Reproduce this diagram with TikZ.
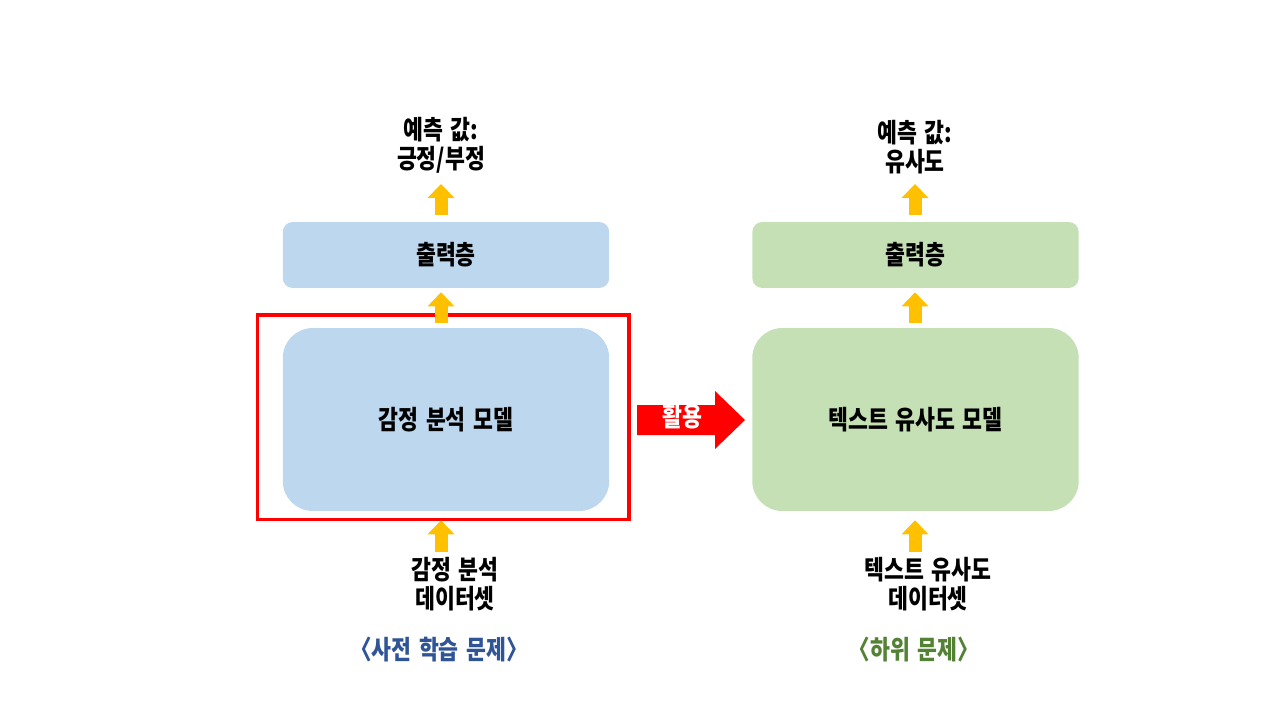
\documentclass[tikz,border=0pt]{standalone}
\usepackage{fontspec}
\setmainfont{Noto Sans CJK KR}[FakeStretch=0.82,WordSpace=1.5]
\usepackage{tikz}
\usetikzlibrary{positioning,arrows.meta,calc}
\definecolor{boxblue}{HTML}{BDD7EE}
\definecolor{boxgreen}{HTML}{C5E0B4}
\definecolor{arrowyellow}{HTML}{FFC000}
\definecolor{titleblue}{HTML}{2F5597}
\definecolor{titlegreen}{HTML}{548235}

\begin{document}
\begin{tikzpicture}[x=0.02cm,y=-0.02cm,font=\fontsize{15}{16.5}\selectfont\bfseries,>=Stealth,
  layer/.style={rounded corners=0.2cm,minimum width=6.53cm,minimum height=1.32cm,inner sep=0pt},
  model/.style={rounded corners=0.6cm,minimum width=6.53cm,minimum height=3.66cm,inner sep=0pt},
  lbl/.style={align=center,inner sep=0pt},
  task/.style={inner sep=0pt,font=\fontsize{15}{16.5}\selectfont\bfseries\addfontfeatures{RawFeature=+halt}},
  uparrow/.style={draw=arrowyellow,line width=0.26cm,-{Triangle[width=0.54cm,length=0.28cm,line width=0pt]}}]
  \useasboundingbox (0,0) rectangle (1280,720);
  % pre-training task (left)
  \node[layer,fill=boxblue] (outA) at (446,255) {출력층};
  \node[model,fill=boxblue] (modelA) at (446,419.5) {감정 분석 모델};
  \node[lbl,anchor=south] (predA) at (441,174) {예측 값:\\긍정/부정};
  \node[lbl,anchor=north] (dataA) at (455,557) {감정 분석\\데이터셋};
  \node[task,text=titleblue] (taskA) at (439,649) {〈사전 학습 문제〉};
  \draw[red,line width=0.07cm] (257.5,315) rectangle (629,519.5);
  % downstream task (right)
  \node[layer,fill=boxgreen] (outB) at (915.5,255) {출력층};
  \node[model,fill=boxgreen] (modelB) at (915.5,419.5) {텍스트 유사도 모델};
  \node[lbl,anchor=south] (predB) at (915,174) {예측 값:\\유사도};
  \node[lbl,anchor=north] (dataB) at (928,557) {텍스트 유사도\\데이터셋};
  \node[task,text=titlegreen] (taskB) at (914,649) {〈하위 문제〉};
  % yellow arrows, data -> model -> output -> prediction
  \foreach \s in {A,B}{
    \draw[uparrow,shorten <=0.1cm,shorten >=0.18cm] (pred\s |- data\s.north) -- (pred\s |- model\s.south);
    \draw[uparrow,shorten <=0.1cm,shorten >=0.08cm] (pred\s |- model\s.north) -- (pred\s |- out\s.south);
    \draw[uparrow,shorten <=0.14cm,shorten >=0.2cm] (pred\s |- out\s.north) -- (pred\s.south);
  }
  % transfer arrow
  \fill[red] (637,405) -- (715,405) -- (715,391) -- (745,420) -- (715,449) -- (715,435) -- (637,435) -- cycle;
  \node[text=white,inner sep=0pt] (use) at (682.5,417) {활용};
\end{tikzpicture}
\end{document}
